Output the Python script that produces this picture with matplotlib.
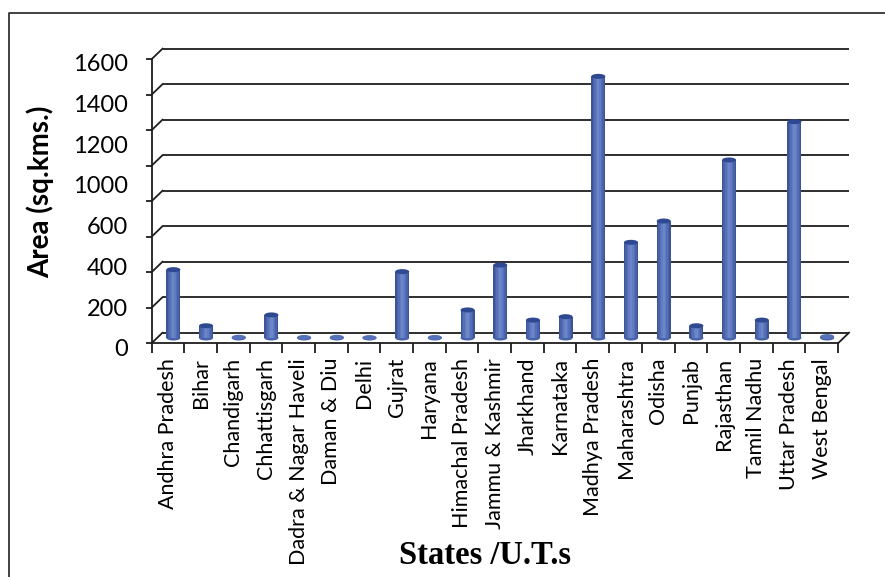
import matplotlib
matplotlib.use("Agg")
import matplotlib.pyplot as plt
import matplotlib.transforms as mtransforms
from matplotlib.patches import Ellipse
from matplotlib.lines import Line2D
import numpy as np

# ---------------- data ----------------
states = ["Andhra Pradesh", "Bihar", "Chandigarh", "Chhattisgarh",
          "Dadra & Nagar Haveli", "Daman & Diu", "Delhi", "Gujrat", "Haryana",
          "Himachal Pradesh", "Jammu & Kashmir", "Jharkhand", "Karnataka",
          "Madhya Pradesh", "Maharashtra", "Odisha", "Punjab", "Rajasthan",
          "Tamil Nadhu", "Uttar Pradesh", "West Bengal"]
areas = [385, 69, 4, 130, 3, 4, 2, 374, 3, 158, 411, 101, 120,
         1474, 539, 659, 69, 1003, 101, 1219, 8]
grid_values = [0, 200, 400, 600, 800, 1000, 1200, 1400, 1600]
y_tick_labels = ["0", "200", "400", "600", "1000", "1200", "1400", "1600"]
x_title = "States /U.T.s"
y_title = "Area (sq.kms.)"

# ---------------- layout ----------------
W, H = 885, 577
fig = plt.figure(figsize=(W / 100, H / 100), dpi=100)
fig.patch.set_facecolor("white")


def fx(px):
    return px / W


def fy(py):
    return 1 - py / H


AX_L, AX_R, AX_T, AX_B = 151.5, 838.0, 59.3, 343.3
ax = fig.add_axes([fx(AX_L), fy(AX_B), (AX_R - AX_L) / W, (AX_B - AX_T) / H])
n = len(states)
ax.set_xlim(-0.5, n - 0.5)
ax.set_ylim(0, 1600)
ax.patch.set_alpha(0)

DX, DY = 11.0, 10.6  # depth offset in pixels
back = ax.transData + mtransforms.Affine2D().translate(DX, DY)
mid = ax.transData + mtransforms.Affine2D().translate(DX / 2, DY / 2)

GRID_C = "#1e1e1e"
GRID_LW = 1.3

# back wall gridlines
for v in grid_values:
    ax.plot([-0.5, n - 0.5], [v, v], transform=back, color=GRID_C,
            lw=GRID_LW, clip_on=False, zorder=1, solid_capstyle="butt")
    conn = mtransforms.Affine2D() + mtransforms.ScaledTranslation(-0.5, v, ax.transData)
    ax.add_line(Line2D([0, DX], [0, DY], transform=conn, color=GRID_C,
                       lw=GRID_LW, clip_on=False, zorder=1))

conn = mtransforms.Affine2D() + mtransforms.ScaledTranslation(n - 0.5, 0, ax.transData)
ax.add_line(Line2D([0, DX], [0, DY], transform=conn, color=GRID_C,
                   lw=GRID_LW, clip_on=False, zorder=1))

# ---------------- cylinders ----------------
bw = 0.43
ell_h = 5.0 / ((AX_B - AX_T) / 1600)  # 5 px in data units
layers = [(1.00, "#3d5499"), (0.80, "#4963aa"), (0.58, "#556fb6"),
          (0.36, "#617cc1"), (0.16, "#6b86c9")]
x = np.arange(n)
for i, v in zip(x, areas):
    ax.add_patch(Ellipse((i, 0), bw, ell_h, transform=mid,
                         facecolor="#4963aa", edgecolor="none", zorder=3,
                         clip_on=False))
for frac, col in layers:
    ax.bar(x, areas, width=bw * frac, bottom=0, color=col,
           transform=mid, zorder=4, clip_on=False, linewidth=0)
for i, v in zip(x, areas):
    top_col = "#2e4891" if v > 20 else "#5571b7"
    ax.add_patch(Ellipse((i, v), bw, ell_h, transform=mid,
                         facecolor=top_col, edgecolor="none", zorder=5,
                         clip_on=False))

ax.set_xlim(-0.5, n - 0.5)
ax.set_ylim(0, 1600)

# ---------------- axes / ticks ----------------
for s in ["top", "right"]:
    ax.spines[s].set_visible(False)
for s in ["left", "bottom"]:
    ax.spines[s].set_color(GRID_C)
    ax.spines[s].set_linewidth(GRID_LW)
    ax.spines[s].set_zorder(6)

ax.set_yticks(grid_values)
ax.tick_params(axis="y", labelleft=False, length=4.5, width=GRID_LW,
               direction="out", color=GRID_C)

ax.set_xticks(x)
ax.set_xticklabels(states, rotation=90, fontsize=15.5, family="Lato",
                   color="black")
ax.set_xticks(np.arange(-0.5, n), minor=True)
ax.tick_params(axis="x", which="major", length=0, pad=10.5)
ax.tick_params(axis="x", which="minor", length=7.2, width=GRID_LW,
               direction="out", color=GRID_C)

# y tick labels (as laid out in the reference)
LB_T, LB_B = 62.7, 348.0
lab = fig.add_axes([fx(AX_L), fy(LB_B), 0.001, (LB_B - LB_T) / H])
lab.set_ylim(0, len(y_tick_labels) - 1)
lab.set_yticks(range(len(y_tick_labels)))
lab.set_yticklabels(y_tick_labels, fontsize=17, family="Lato")
lab.tick_params(axis="y", length=0, pad=(AX_L - 128) * 0.72)
lab.set_xticks([])
for s in lab.spines.values():
    s.set_visible(False)
lab.patch.set_alpha(0)

# titles
fig.text(fx(40), fy(192), y_title, rotation=90, ha="center", va="center",
         fontsize=20, fontweight="bold", family="Lato")
fig.text(fx(485), fy(556), x_title, ha="center", va="center",
         fontsize=23.5, fontweight="bold", family="Liberation Serif")

# chart-area border (left and top visible)
fig.add_artist(Line2D([fx(9.3), fx(9.3), 1.0], [0.0, fy(13.3), fy(13.3)],
                      transform=fig.transFigure, color="#333333", lw=1.3))

fig.savefig("out.png", dpi=100)
